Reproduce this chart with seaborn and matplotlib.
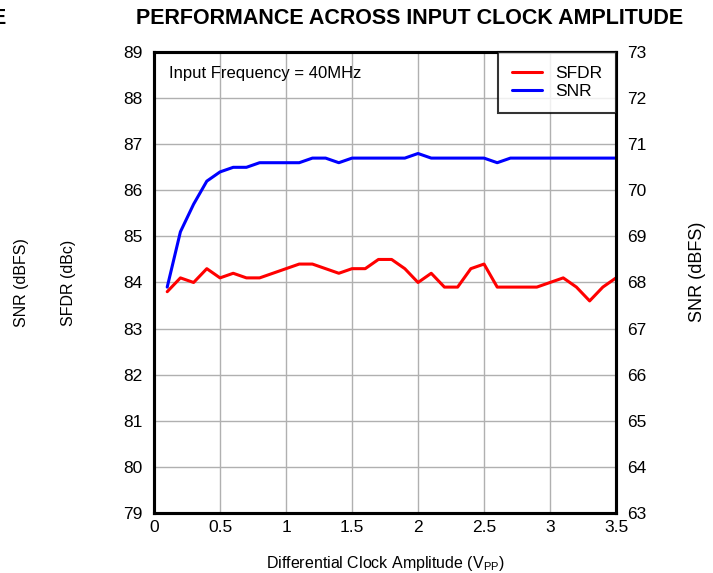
import numpy as np
import pandas as pd
import matplotlib
matplotlib.use('Agg')
import matplotlib.pyplot as plt
import seaborn as sns

# data (0.1 V steps)
amplitude = [0.1, 0.2, 0.3, 0.4, 0.5, 0.6, 0.7, 0.8, 0.9, 1.0,
             1.1, 1.2, 1.3, 1.4, 1.5, 1.6, 1.7, 1.8, 1.9, 2.0,
             2.1, 2.2, 2.3, 2.4, 2.5, 2.6, 2.7, 2.8, 2.9, 3.0,
             3.1, 3.2, 3.3, 3.4, 3.5]
sfdr = [83.8, 84.1, 84.0, 84.3, 84.1, 84.2, 84.1, 84.1, 84.2, 84.3,
        84.4, 84.4, 84.3, 84.2, 84.3, 84.3, 84.5, 84.5, 84.3, 84.0,
        84.2, 83.9, 83.9, 84.3, 84.4, 83.9, 83.9, 83.9, 83.9, 84.0,
        84.1, 83.9, 83.6, 83.9, 84.1]
snr = [67.9, 69.1, 69.7, 70.2, 70.4, 70.5, 70.5, 70.6, 70.6, 70.6,
       70.6, 70.7, 70.7, 70.6, 70.7, 70.7, 70.7, 70.7, 70.7, 70.8,
       70.7, 70.7, 70.7, 70.7, 70.7, 70.6, 70.7, 70.7, 70.7, 70.7,
       70.7, 70.7, 70.7, 70.7, 70.7]

df = pd.DataFrame({'amp': amplitude, 'SFDR': sfdr, 'SNR': snr})

sns.set_style('white')
plt.rcParams['font.family'] = ['Liberation Sans', 'DejaVu Sans']
plt.rcParams['mathtext.fontset'] = 'custom'
plt.rcParams['mathtext.rm'] = 'Liberation Sans'
plt.rcParams['text.color'] = 'black'
plt.rcParams['axes.labelcolor'] = 'black'
plt.rcParams['xtick.color'] = 'black'
plt.rcParams['ytick.color'] = 'black'

fig = plt.figure(figsize=(7.13, 5.73), dpi=100)
ax = fig.add_axes([0.216, 0.105, 0.648, 0.804])
ax2 = ax.twinx()

sns.lineplot(data=df, x='amp', y='SFDR', ax=ax, color='#ff0000', linewidth=2.2, label='SFDR', legend=False)
sns.lineplot(data=df, x='amp', y='SNR', ax=ax2, color='#0000ff', linewidth=2.2, label='SNR', legend=False)

ax.set_xlim(0, 3.5)
ax.set_ylim(79, 89)
ax2.set_ylim(63, 73)
ax.set_xticks(np.arange(0, 3.51, 0.5))
ax.set_xticklabels(['0', '0.5', '1', '1.5', '2', '2.5', '3', '3.5'])
ax.set_yticks(range(79, 90))
ax2.set_yticks(range(63, 74))
ax.grid(True, color='#b0b0b0', linewidth=1)
ax.tick_params(length=0, labelsize=12.5, pad=8)
ax2.tick_params(length=0, labelsize=12.5, pad=8)
ax.tick_params(axis='x', pad=5)
for a in (ax, ax2):
    for s in a.spines.values():
        s.set_color('black')
        s.set_linewidth(2.2)

ax.set_xlabel(r'Differential Clock Amplitude (V$_{\mathregular{PP}}$)', fontsize=11.5, labelpad=14)
ax.set_ylabel('SFDR (dBc)', fontsize=11.5, labelpad=34)
ax2.set_ylabel('SNR (dBFS)', fontsize=13)
ax2.yaxis.set_label_coords(1.158, 0.523)

ax.text(0.033, 0.953, 'Input Frequency = 40MHz', transform=ax.transAxes, fontsize=12, va='center', ha='left')

h1, l1 = ax.get_legend_handles_labels()
h2, l2 = ax2.get_legend_handles_labels()
leg = ax2.legend(h1 + h2, l1 + l2, loc='upper right', fontsize=12.5, frameon=True, fancybox=False,
                 borderaxespad=0, handlelength=1.75, handletextpad=0.75, borderpad=0.8, labelspacing=0.15)
leg.get_frame().set_edgecolor('black')
leg.get_frame().set_linewidth(1.5)

fig.text(0.575, 0.968, 'PERFORMANCE ACROSS INPUT CLOCK AMPLITUDE', fontsize=15.5, fontweight='bold', ha='center', va='center')
fig.text(-0.012, 0.968, 'E', fontsize=15.5, fontweight='bold', ha='left', va='center')
fig.text(0.0295, 0.506, 'SNR (dBFS)', fontsize=11.5, rotation=90, ha='center', va='center')

fig.savefig('out.png', dpi=100)
